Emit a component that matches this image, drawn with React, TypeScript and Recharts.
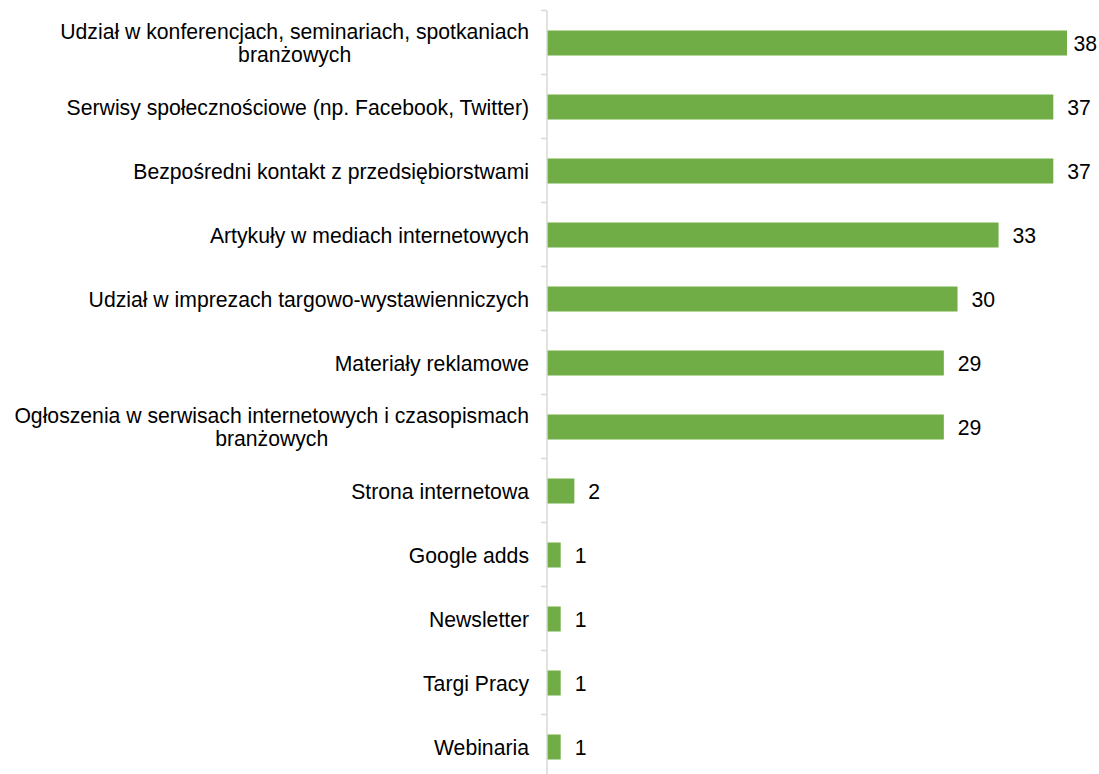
import React from 'react';
import { BarChart, Bar, XAxis, YAxis, LabelList } from 'recharts';

// Categories (\n marks a forced line break in the axis label)
const categories = [
  'Udział w konferencjach, seminariach, spotkaniach\nbranżowych',
  'Serwisy społecznościowe (np. Facebook, Twitter)',
  'Bezpośredni kontakt z przedsiębiorstwami',
  'Artykuły w mediach internetowych',
  'Udział w imprezach targowo-wystawienniczych',
  'Materiały reklamowe',
  'Ogłoszenia w serwisach internetowych i czasopismach\nbranżowych',
  'Strona internetowa',
  'Google adds',
  'Newsletter',
  'Targi Pracy',
  'Webinaria',
];

const values = [38, 37, 37, 33, 30, 29, 29, 2, 1, 1, 1, 1];

const FONT = '"Liberation Sans", Arial, sans-serif';
const FONT_SIZE = 21.2;
const LINE_HEIGHT = 23;

const WIDTH = 1099;
const HEIGHT = 790;
const MARGIN = { top: 10.5, right: 32, bottom: 11.5, left: 0 };
const AXIS_W = 547;
const BAND = (HEIGHT - MARGIN.top - MARGIN.bottom) / categories.length;
const AXIS_COLOR = '#d9d9d9';

const data = categories.map((name, i) => ({ name, value: values[i] }));

let ctx: CanvasRenderingContext2D | null = null;
function measure(text: string) {
  if (!ctx) {
    ctx = document.createElement('canvas').getContext('2d');
  }
  if (!ctx) return text.length * FONT_SIZE * 0.5;
  ctx.font = `${FONT_SIZE}px "Liberation Sans"`;
  return ctx.measureText(text).width;
}

function CategoryTick(props: any) {
  const { x, y, payload, index } = props;
  const lines = String(payload.value).split('\n');
  const maxW = Math.max(...lines.map(measure));
  const multi = lines.length > 1;
  const first = -((lines.length - 1) / 2) * LINE_HEIGHT;
  const tx = multi ? x - maxW / 2 : x;
  const ax = MARGIN.left + AXIS_W;
  return (
    <g>
      {/* tick marks sit on the band boundaries, like the original */}
      <line x1={ax - 6} x2={ax} y1={y - BAND / 2} y2={y - BAND / 2} stroke={AXIS_COLOR} strokeWidth={1.5} />
      {index === categories.length - 1 && (
        <line x1={ax - 6} x2={ax} y1={y + BAND / 2} y2={y + BAND / 2} stroke={AXIS_COLOR} strokeWidth={1.5} />
      )}
      <text
        x={tx}
        y={y}
        textAnchor={multi ? 'middle' : 'end'}
        fontFamily={FONT}
        fontSize={FONT_SIZE}
        fill="#000"
      >
        {lines.map((line, i) => (
          <tspan key={i} x={tx} dy={i === 0 ? first + 8 : LINE_HEIGHT}>
            {line}
          </tspan>
        ))}
      </text>
    </g>
  );
}

function ValueLabel(props: any) {
  const { x, y, width, height, value } = props;
  const text = String(value);
  const w = measure(text);
  // outside end, pulled back in when it would run past the chart edge
  const lx = Math.min(x + width + 14, WIDTH - w - 2);
  return (
    <text x={lx} y={y + height / 2} dy={7.5} fontFamily={FONT} fontSize={FONT_SIZE} fill="#000">
      {text}
    </text>
  );
}

export default function App() {
  return (
    <div style={{ position: 'absolute', left: 0, top: 0, background: '#fff' }}>
      <BarChart
        width={WIDTH}
        height={HEIGHT}
        data={data}
        layout="vertical"
        margin={MARGIN}
        barSize={25}
      >
        <XAxis type="number" domain={[0, 38]} hide />
        <YAxis
          type="category"
          dataKey="name"
          width={AXIS_W}
          axisLine={{ stroke: AXIS_COLOR, strokeWidth: 1.5 }}
          tickLine={false}
          tickSize={0}
          tickMargin={18}
          interval={0}
          tick={<CategoryTick />}
        />
        <Bar dataKey="value" fill="#70ad47" isAnimationActive={false}>
          <LabelList dataKey="value" content={<ValueLabel />} />
        </Bar>
      </BarChart>
    </div>
  );
}
